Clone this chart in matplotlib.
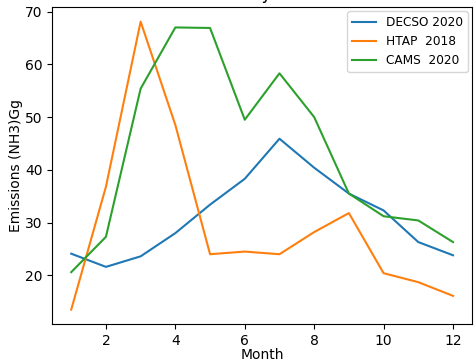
import matplotlib
matplotlib.use("Agg")
import matplotlib.pyplot as plt

months = list(range(1, 13))
decso_2020 = [24.1, 21.6, 23.6, 28.0, 33.4, 38.3, 45.9, 40.4, 35.5, 32.3, 26.3, 23.8]
htap_2018 = [13.5, 36.8, 68.1, 48.5, 24.0, 24.5, 24.0, 28.2, 31.8, 20.4, 18.7, 16.1]
cams_2020 = [20.6, 27.3, 55.4, 67.0, 66.9, 49.5, 58.3, 50.0, 35.5, 31.2, 30.4, 26.3]

fig, ax = plt.subplots(figsize=(4.74, 3.62), dpi=100)
fig.subplots_adjust(left=0.11, right=0.996, top=0.98, bottom=0.105)

ax.plot(months, decso_2020, label='DECSO 2020')
ax.plot(months, htap_2018, label='HTAP  2018')
ax.plot(months, cams_2020, label='CAMS  2020')

# title sits mostly above the cropped canvas, as in the source image
ax.set_title('NH3 Monthly Emissions')
ax.set_xlabel('Month', labelpad=0)
ax.set_ylabel('Emissions (NH3)Gg', labelpad=1)
ax.legend(loc='upper right', fontsize=8.7, borderaxespad=0.35)

plt.savefig('out.png')
